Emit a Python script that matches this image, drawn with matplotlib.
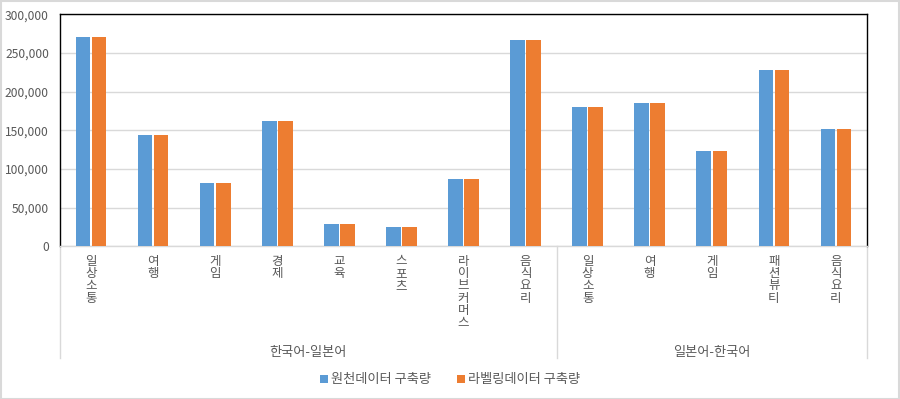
import matplotlib
matplotlib.use("Agg")
import matplotlib.pyplot as plt
import matplotlib.transforms as mtransforms
import numpy as np

plt.rcParams['font.family'] = ['Noto Sans CJK KR', 'DejaVu Sans']

# data
groups = ['한국어-일본어', '일본어-한국어']
group_sizes = [8, 5]
categories = ['일상소통', '여행', '게임', '경제', '교육', '스포츠', '라이브커머스', '음식요리',
              '일상소통', '여행', '게임', '패션뷰티', '음식요리']
source_counts = [271000, 144000, 81500, 162000, 28500, 25000, 87000, 267000,
                 180000, 185000, 123000, 228000, 151500]
label_counts = [271000, 144000, 81500, 162000, 28500, 25000, 87000, 267000,
                180000, 185000, 123000, 228000, 151500]
series_names = ['원천데이터 구축량', '라벨링데이터 구축량']

blue = '#5B9BD5'
orange = '#ED7D31'
grid_c = '#D9D9D9'
text_c = '#595959'

fig = plt.figure(figsize=(9, 3.99), dpi=100)
ax = fig.add_axes([0.0667, 0.3827, 0.8966, 0.581])

x = np.arange(len(categories))
w = 0.235
b1 = ax.bar(x - w / 2 - 0.012, source_counts, w, color=blue, label=series_names[0], zorder=3)
b2 = ax.bar(x + w / 2 + 0.012, label_counts, w, color=orange, label=series_names[1], zorder=3)

ax.set_xlim(-0.5, len(categories) - 0.5)
ax.set_ylim(0, 300000)
ax.set_yticks(np.arange(0, 300001, 50000))
ax.set_yticklabels([f'{v:,}' for v in range(0, 300001, 50000)], color=text_c, fontsize=8.7)
ax.yaxis.grid(True, color=grid_c, linewidth=1, zorder=0)
ax.tick_params(axis='y', length=0, pad=8)

ax.set_xticks(x)
ax.set_xticklabels(['\n'.join(c) for c in categories], color=text_c, fontsize=9,
                   linespacing=0.93, va='top')
ax.tick_params(axis='x', length=0, pad=6)

for side in ['left', 'top', 'right']:
    ax.spines[side].set_color('black')
    ax.spines[side].set_linewidth(1)
ax.spines['bottom'].set_color(grid_c)
ax.spines['bottom'].set_linewidth(1)

# group separators and labels
trans = mtransforms.blended_transform_factory(ax.transData, fig.transFigure)
edges = np.concatenate([[0], np.cumsum(group_sizes)]) - 0.5
for e in edges:
    ax.plot([e, e], [0.3827, 0.103], transform=trans, color=grid_c, lw=1, clip_on=False)
for i, g in enumerate(groups):
    cx = (edges[i] + edges[i + 1]) / 2
    ax.text(cx, 0.116, g, transform=trans, ha='center', va='center', color=text_c, fontsize=9.5)

fig.legend(handles=[b1, b2], labels=series_names, loc='center', bbox_to_anchor=(0.5, 0.048),
           ncol=2, frameon=False, fontsize=9.5, handlelength=0.6, handleheight=0.6,
           handletextpad=0.2, columnspacing=2.0, labelcolor=text_c)

# outer border
fig.patches.append(plt.Rectangle((0.001, 0.001), 0.998, 0.997, transform=fig.transFigure,
                                 fill=False, edgecolor=grid_c, lw=1.5))

fig.savefig('out.png', dpi=100, facecolor='white')
